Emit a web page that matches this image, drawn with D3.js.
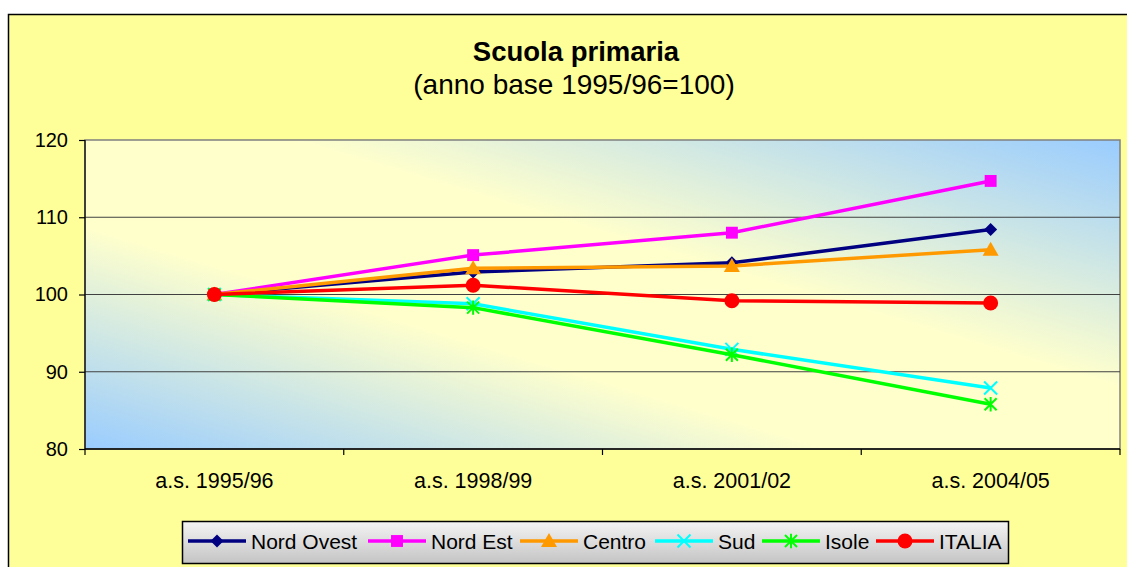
<!DOCTYPE html>
<html>
<head>
<meta charset="utf-8">
<script src="https://cdn.jsdelivr.net/npm/d3@7"></script>
<style>
  body { margin: 0; background: #fff; }
  svg text { font-family: Arial, "Liberation Sans", sans-serif; fill: #000; }
</style>
</head>
<body>
<svg width="1127" height="567"></svg>
<script>
'use strict';

// data
var categories = ["a.s. 1995/96", "a.s. 1998/99", "a.s. 2001/02", "a.s. 2004/05"];
var yTicks = [80, 90, 100, 110, 120];

var nordOvest = [100, 102.9, 104.1, 108.4];
var nordEst   = [100, 105.1, 108.0, 114.7];
var centro    = [100, 103.4, 103.7, 105.8];
var sud       = [100, 98.8, 92.9, 87.9];
var isole     = [100, 98.3, 92.2, 85.8];
var italia    = [100, 101.2, 99.2, 98.9];

var seriesNames  = ["Nord Ovest", "Nord Est", "Centro", "Sud", "Isole", "ITALIA"];
var seriesValues = [nordOvest, nordEst, centro, sud, isole, italia];
var seriesColors = ["#000080", "#FF00FF", "#FF9900", "#00FFFF", "#00FF00", "#FF0000"];
var seriesMarks  = ["diamond", "square", "triangle", "x", "star", "circle"];

var svg = d3.select("svg");
var plot = {left: 85, right: 1120, top: 140, bottom: 449};

// chart background (yellow with black frame)
svg.append("rect")
    .attr("x", 8.5).attr("y", 14.5)
    .attr("width", 1200).attr("height", 600)
    .attr("fill", "#FFFF99")
    .attr("stroke", "#000").attr("stroke-width", 1.5);

// title
svg.append("text")
    .attr("x", 576).attr("y", 61)
    .attr("text-anchor", "middle")
    .style("font-size", "27.5px").style("font-weight", "bold")
    .text("Scuola primaria");
svg.append("text")
    .attr("x", 574).attr("y", 94)
    .attr("text-anchor", "middle")
    .style("font-size", "28px")
    .text("(anno base 1995/96=100)");

// plot area gradient
var defs = svg.append("defs");
var grad = defs.append("linearGradient")
    .attr("id", "plotGrad")
    .attr("x1", 0).attr("y1", 1).attr("x2", 1).attr("y2", 0);
grad.append("stop").attr("offset", 0).attr("stop-color", "#99CCFF");
grad.append("stop").attr("offset", 0.36).attr("stop-color", "#FFFFCC");
grad.append("stop").attr("offset", 0.6).attr("stop-color", "#FFFFCC");
grad.append("stop").attr("offset", 1).attr("stop-color", "#99CCFF");

var legGrad = defs.append("linearGradient")
    .attr("id", "legGrad")
    .attr("x1", 0).attr("y1", 0).attr("x2", 0).attr("y2", 1);
legGrad.append("stop").attr("offset", 0).attr("stop-color", "#F4F4F4");
legGrad.append("stop").attr("offset", 1).attr("stop-color", "#C4C4C4");

svg.append("rect")
    .attr("x", plot.left).attr("y", plot.top)
    .attr("width", plot.right - plot.left)
    .attr("height", plot.bottom - plot.top)
    .attr("fill", "url(#plotGrad)")
    .attr("stroke", "#808080").attr("stroke-width", 1.5);

// scales
var x = d3.scaleBand().domain(categories).range([plot.left, plot.right]);
var y = d3.scaleLinear().domain([80, 120]).range([plot.bottom, plot.top]);
function cx(i) { return x(categories[i]) + x.bandwidth() / 2; }

// gridlines
svg.append("g").selectAll("line")
    .data(yTicks.slice(1, 4))
    .enter().append("line")
    .attr("x1", plot.left).attr("x2", plot.right)
    .attr("y1", function(d) { return y(d); })
    .attr("y2", function(d) { return y(d); })
    .attr("stroke", "#404040").attr("stroke-width", 1.2);

// y axis
var yAxis = svg.append("g")
    .attr("transform", "translate(" + plot.left + ",0)")
    .call(d3.axisLeft(y).tickValues(yTicks).tickSize(6).tickPadding(11));
yAxis.selectAll("text").style("font-size", "20px");
yAxis.selectAll("line, path").attr("stroke", "#000").attr("stroke-width", 1.2);
yAxis.select(".domain").attr("d", "M0," + plot.bottom + "V" + plot.top);

// x axis
var xAxis = svg.append("g")
    .attr("transform", "translate(0," + plot.bottom + ")")
    .call(d3.axisBottom(x).tickSize(0).tickPadding(24));
xAxis.selectAll("text").style("font-size", "21.5px");
xAxis.select(".domain").attr("stroke", "#000").attr("stroke-width", 1.5)
    .attr("d", "M" + plot.left + ",0H" + plot.right);
xAxis.selectAll(".bound")
    .data(categories.concat(["end"]))
    .enter().append("line")
    .attr("class", "bound")
    .attr("x1", function(d, i) { return i < categories.length ? x(d) : plot.right; })
    .attr("x2", function(d, i) { return i < categories.length ? x(d) : plot.right; })
    .attr("y1", 0).attr("y2", 6)
    .attr("stroke", "#000").attr("stroke-width", 1.2);

// marker drawing
function drawMark(g, type, color, px, py, s) {
  if (type === "diamond") {
    g.append("path")
      .attr("d", "M" + px + "," + (py - s) + "L" + (px + s) + "," + py + "L" + px + "," + (py + s) + "L" + (px - s) + "," + py + "Z")
      .attr("fill", color);
  } else if (type === "square") {
    g.append("rect")
      .attr("x", px - s * 0.85).attr("y", py - s * 0.85)
      .attr("width", s * 1.7).attr("height", s * 1.7)
      .attr("fill", color);
  } else if (type === "triangle") {
    g.append("path")
      .attr("d", "M" + px + "," + (py - s) + "L" + (px + s) + "," + (py + s * 0.75) + "L" + (px - s) + "," + (py + s * 0.75) + "Z")
      .attr("fill", color);
  } else if (type === "circle") {
    g.append("circle").attr("cx", px).attr("cy", py).attr("r", s).attr("fill", color);
  } else if (type === "x" || type === "star") {
    var d = "M" + (px - s) + "," + (py - s) + "L" + (px + s) + "," + (py + s) +
            "M" + (px - s) + "," + (py + s) + "L" + (px + s) + "," + (py - s);
    if (type === "star") d += "M" + px + "," + (py - s * 1.2) + "L" + px + "," + (py + s * 1.2);
    g.append("path").attr("d", d)
      .attr("stroke", color).attr("stroke-width", 2).attr("fill", "none");
  }
}

var markSize = {diamond: 6.5, square: 7, triangle: 8, x: 6.5, star: 6, circle: 7.5};

var line = d3.line()
    .x(function(d, i) { return cx(i); })
    .y(function(d) { return y(d); });

seriesValues.forEach(function(vals, k) {
  var g = svg.append("g").attr("class", "series");
  g.append("path")
    .datum(vals)
    .attr("d", line)
    .attr("fill", "none")
    .attr("stroke", seriesColors[k])
    .attr("stroke-width", 3.5)
    .attr("stroke-linejoin", "round");
  vals.forEach(function(v, i) {
    drawMark(g, seriesMarks[k], seriesColors[k], cx(i), y(v), markSize[seriesMarks[k]]);
  });
});

// legend
var legend = svg.append("g");
legend.append("rect")
    .attr("x", 182.5).attr("y", 521.5)
    .attr("width", 826).attr("height", 42)
    .attr("fill", "url(#legGrad)")
    .attr("stroke", "#000").attr("stroke-width", 1.5);

var legX = [188, 368, 520, 655, 762, 876];
seriesNames.forEach(function(name, k) {
  var lx = legX[k], ly = 541;
  legend.append("line")
    .attr("x1", lx).attr("x2", lx + 58)
    .attr("y1", ly).attr("y2", ly)
    .attr("stroke", seriesColors[k]).attr("stroke-width", 3.5);
  drawMark(legend, seriesMarks[k], seriesColors[k], lx + 29, ly, markSize[seriesMarks[k]]);
  legend.append("text")
    .attr("x", lx + 63).attr("y", ly + 7.5)
    .style("font-size", "21px")
    .text(name);
});
</script>
</body>
</html>
